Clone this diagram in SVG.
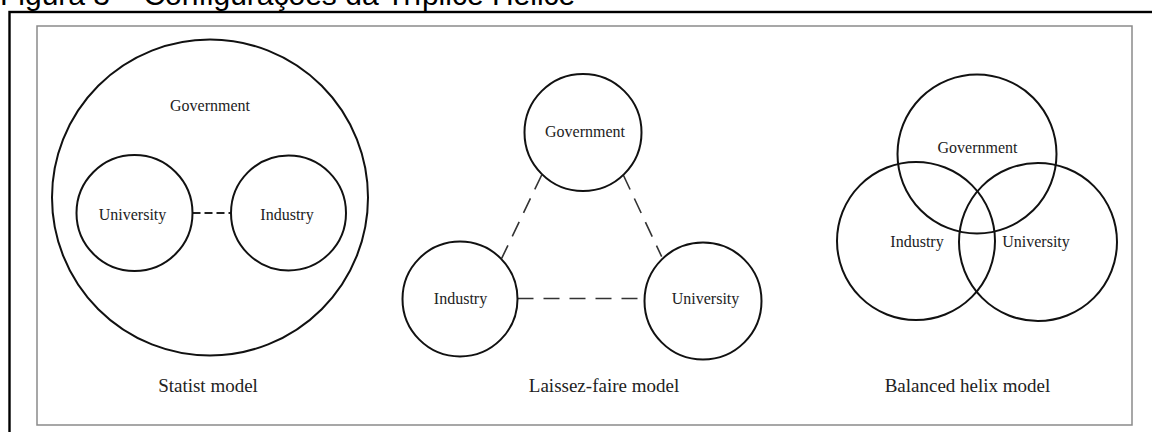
<svg xmlns="http://www.w3.org/2000/svg" width="1152" height="432" viewBox="0 0 1152 432">
  <style>
    .frame { fill: none; stroke: #000; stroke-width: 2.4; }
    .panel { fill: #fff; stroke: #8a8a8a; stroke-width: 1.5; }
    .ring { fill: none; stroke: #111; stroke-width: 2; }
    .label { font-family: "Liberation Serif", "Times New Roman", serif; font-size: 16px; fill: #222; text-anchor: middle; }
    .model { font-family: "Liberation Serif", "Times New Roman", serif; font-size: 19px; fill: #222; text-anchor: middle; }
    .title { font-family: "Liberation Sans", Arial, sans-serif; font-size: 30px; fill: #000; }
    .link-short { fill: none; stroke: #222; stroke-width: 2; stroke-dasharray: 8 4; }
    .link-long { fill: none; stroke: #333; stroke-width: 1.6; stroke-dasharray: 16 10; }
  </style>

  <rect width="1152" height="432" fill="#fff"/>

  <!-- figure caption, partly above the top edge -->
  <text class="title" x="0" y="5">Figura 3 – Configurações da Tríplice Hélice</text>

  <!-- outer frame (right and bottom sides run past the canvas) -->
  <rect class="frame" x="9.5" y="12" width="1200" height="500"/>
  <!-- inner panel -->
  <rect class="panel" x="37" y="26" width="1095" height="399"/>

  <!-- connectors -->
  <g id="connectors">
    <line class="link-short" x1="192.5" y1="213" x2="231" y2="213"/>
    <line class="link-long" x1="541.7" y1="175" x2="501.7" y2="258.3"/>
    <line class="link-long" x1="623.3" y1="175" x2="661.7" y2="256.7"/>
    <line class="link-long" x1="517.5" y1="298.5" x2="644.5" y2="298.5"/>
  </g>

  <!-- Statist model -->
  <g id="statist-government">
    <circle class="ring" cx="210" cy="197.5" r="158"/>
    <text class="label" x="210" y="111">Government</text>
  </g>
  <g id="statist-university">
    <circle class="ring" cx="134.5" cy="213" r="58"/>
    <text class="label" x="132.5" y="220">University</text>
  </g>
  <g id="statist-industry">
    <circle class="ring" cx="288.5" cy="213" r="57.5"/>
    <text class="label" x="287" y="220">Industry</text>
  </g>
  <text class="model" x="208" y="392">Statist model</text>

  <!-- Laissez-faire model -->
  <g id="lf-government">
    <circle class="ring" cx="583" cy="132.5" r="58.5"/>
    <text class="label" x="585" y="137">Government</text>
  </g>
  <g id="lf-industry">
    <circle class="ring" cx="460" cy="299" r="57.5"/>
    <text class="label" x="460.5" y="304">Industry</text>
  </g>
  <g id="lf-university">
    <circle class="ring" cx="703" cy="301" r="58.5"/>
    <text class="label" x="705.5" y="304">University</text>
  </g>
  <text class="model" x="604" y="392">Laissez-faire model</text>

  <!-- Balanced helix model -->
  <g id="bh-government">
    <circle class="ring" cx="977" cy="154" r="79.5"/>
    <text class="label" x="977.5" y="153">Government</text>
  </g>
  <g id="bh-industry">
    <circle class="ring" cx="916" cy="241" r="79"/>
    <text class="label" x="917" y="247">Industry</text>
  </g>
  <g id="bh-university">
    <circle class="ring" cx="1038" cy="242" r="79"/>
    <text class="label" x="1036" y="247">University</text>
  </g>
  <text class="model" x="967.5" y="392">Balanced helix model</text>
</svg>
